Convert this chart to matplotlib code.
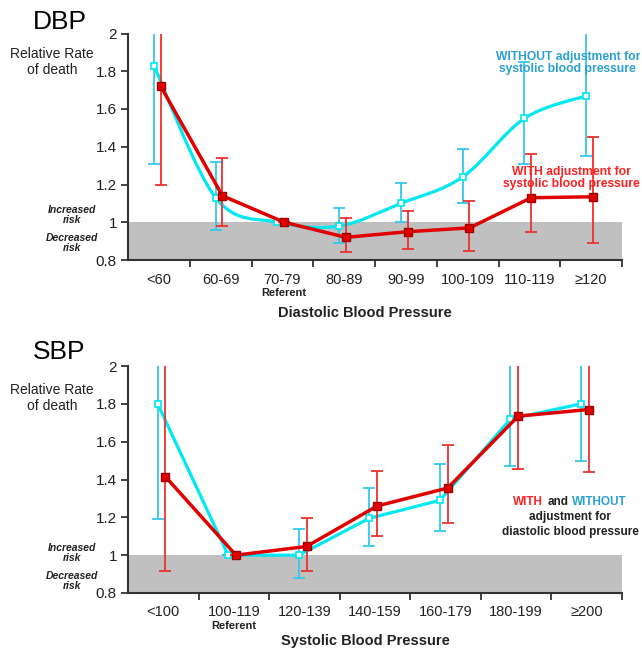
import matplotlib
matplotlib.use("Agg")
import matplotlib.pyplot as plt
import numpy as np
from matplotlib.path import Path
from matplotlib.patches import PathPatch
from matplotlib.offsetbox import TextArea, HPacker, VPacker, AnnotationBbox

plt.rcParams['font.family'] = ['Liberation Sans', 'DejaVu Sans']

# ---- data ----
dbp_cats = ["<60", "60-69", "70-79", "80-89", "90-99", "100-109", "110-119", "\u2265120"]
dbp_without = [1.83, 1.13, 1.00, 0.98, 1.10, 1.24, 1.55, 1.67]
dbp_without_lo = [1.31, 0.96, 1.00, 0.89, 1.00, 1.10, 1.31, 1.35]
dbp_without_hi = [2.40, 1.32, 1.00, 1.075, 1.21, 1.39, 1.85, 2.40]
dbp_with = [1.72, 1.14, 1.00, 0.92, 0.95, 0.97, 1.13, 1.135]
dbp_with_lo = [1.20, 0.98, 1.00, 0.84, 0.86, 0.85, 0.95, 0.89]
dbp_with_hi = [2.40, 1.34, 1.00, 1.02, 1.06, 1.11, 1.36, 1.45]

sbp_cats = ["<100", "100-119", "120-139", "140-159", "160-179", "180-199", "\u2265200"]
sbp_without = [1.80, 1.00, 1.00, 1.195, 1.29, 1.72, 1.80]
sbp_without_lo = [1.19, 1.00, 0.88, 1.05, 1.13, 1.47, 1.50]
sbp_without_hi = [2.40, 1.00, 1.14, 1.355, 1.48, 2.005, 2.40]
sbp_with = [1.415, 1.00, 1.046, 1.26, 1.355, 1.735, 1.77]
sbp_with_lo = [0.915, 1.00, 0.917, 1.10, 1.17, 1.455, 1.44]
sbp_with_hi = [2.40, 1.00, 1.195, 1.445, 1.58, 2.40, 2.40]

yticks = [0.8, 1.0, 1.2, 1.4, 1.6, 1.8, 2.0]
ytick_labels = ["0.8", "1", "1.2", "1.4", "1.6", "1.8", "2"]

CYAN = "#00e8f0"
CYAN_BAR = "#35c8ee"
CYAN_TXT = "#2a9fd0"
RED = "#e00000"
RED_BAR = "#ee3030"
RED_TXT = "#ff2020"
W, H = 642, 649


def smooth_path(x, y):
    # Catmull-Rom spline drawn as cubic Bezier segments
    pts = np.column_stack([x, y])
    n = len(pts)
    verts = [pts[0]]
    codes = [Path.MOVETO]
    for i in range(n - 1):
        p0 = pts[max(i - 1, 0)]
        p1 = pts[i]
        p2 = pts[i + 1]
        p3 = pts[min(i + 2, n - 1)]
        c1 = p1 + (p2 - p0) / 6.0
        c2 = p2 - (p3 - p1) / 6.0
        verts += [c1, c2, p2]
        codes += [Path.CURVE4] * 3
    return Path(verts, codes)


def draw_panel(ax, cats, wo, wo_lo, wo_hi, wi, wi_lo, wi_hi, smooth):
    n = len(cats)
    x = np.arange(n)
    xc = x - 0.08
    xr = x + 0.03
    ax.axhspan(0.8, 1.0, color="#c0c0c0", zorder=0, lw=0)

    wo = np.array(wo); wi = np.array(wi)
    ax.errorbar(xc, wo, yerr=[wo - np.array(wo_lo), np.array(wo_hi) - wo],
                fmt="none", ecolor=CYAN_BAR, elinewidth=1.3, capsize=4,
                capthick=1.3, zorder=2)
    if smooth:
        ax.add_patch(PathPatch(smooth_path(xc, wo), facecolor="none",
                               edgecolor=CYAN, lw=2.3, zorder=3))
    else:
        ax.plot(xc, wo, color=CYAN, lw=2.3, zorder=3)
    ax.plot(xc, wo, ls="none", marker="s", ms=4.5, mfc="white",
            mec=CYAN, mew=1.2, zorder=4)

    ax.errorbar(xr, wi, yerr=[wi - np.array(wi_lo), np.array(wi_hi) - wi],
                fmt="none", ecolor=RED_BAR, elinewidth=1.3, capsize=4,
                capthick=1.3, zorder=5)
    ax.plot(xr, wi, color=RED, lw=2.5, marker="s", ms=5.5, mfc=RED,
            mec="#a00000", mew=1, zorder=6)

    ax.set_xlim(-0.5, n - 0.5)
    ax.set_ylim(0.8, 2.0)
    ax.set_yticks(yticks)
    ax.set_yticklabels(ytick_labels)
    ax.set_xticks(np.arange(n) + 0.5)
    ax.set_xticklabels([])
    ax.set_xticks(x, minor=True)
    ax.set_xticklabels(cats, minor=True)
    ax.tick_params(axis="x", which="minor", length=0, pad=9, labelsize=10.5,
                   colors="#222222")
    ax.tick_params(axis="x", which="major", length=5, width=1.3, color="#333333")
    ax.tick_params(axis="y", length=5, width=1.3, color="#333333",
                   labelsize=11, labelcolor="#222222", pad=3)
    for s in ["top", "right"]:
        ax.spines[s].set_visible(False)
    for s in ["left", "bottom"]:
        ax.spines[s].set_color("#333333")
        ax.spines[s].set_linewidth(1.5)


fig = plt.figure(figsize=(W / 100, H / 100), dpi=100)
ax1 = fig.add_axes([128 / W, 1 - 260 / H, (622 - 128) / W, (260 - 33.5) / H])
ax2 = fig.add_axes([128 / W, 1 - 593 / H, (622 - 128) / W, (593 - 366) / H])

draw_panel(ax1, dbp_cats, dbp_without, dbp_without_lo, dbp_without_hi,
           dbp_with, dbp_with_lo, dbp_with_hi, smooth=True)
draw_panel(ax2, sbp_cats, sbp_without, sbp_without_lo, sbp_without_hi,
           sbp_with, sbp_with_lo, sbp_with_hi, smooth=False)


def ftext(px, py, s, **kw):
    return fig.text(px / W, 1 - py / H, s, **kw)


for top, title, xlab, ref_x in [(0, "DBP", "Diastolic Blood Pressure", 284),
                                (330, "SBP", "Systolic Blood Pressure", 234)]:
    ftext(33, top + 22, title, fontsize=19, va="center", ha="left")
    ftext(52, top + 62 if top == 0 else top + 68, "Relative Rate\nof death",
          fontsize=10, ha="center", va="center", linespacing=1.25,
          color="#222222")
    ftext(72, top + (215 if top == 0 else 223), "Increased\nrisk", fontsize=7.5,
          fontweight="bold", style="italic", ha="center", va="center",
          linespacing=1.1, color="#222222")
    ftext(72, top + (243 if top == 0 else 251), "Decreased\nrisk", fontsize=7.5,
          fontweight="bold", style="italic", ha="center", va="center",
          linespacing=1.1, color="#222222")
    ftext(ref_x, top + (293 if top == 0 else 296), "Referent",
          fontsize=8, fontweight="bold", ha="center", va="center",
          color="#222222")
    ftext(365, top + (313 if top == 0 else 311), xlab, fontsize=10.5,
          fontweight="bold", ha="center", va="center", color="#222222")

ftext(640, 63, "WITHOUT adjustment for\nsystolic blood pressure", fontsize=8.7,
      fontweight="bold", color=CYAN_TXT, ha="right", va="center",
      linespacing=1.1, multialignment="center")
ftext(640, 178, "WITH adjustment for\nsystolic blood pressure", fontsize=8.7,
      fontweight="bold", color=RED_TXT, ha="right", va="center",
      linespacing=1.1, multialignment="center")

tp = dict(fontsize=8.5, fontweight="bold")
line1 = HPacker(children=[TextArea("WITH", textprops=dict(color=RED_TXT, **tp)),
                          TextArea("and", textprops=dict(color="#222222", **tp)),
                          TextArea("WITHOUT", textprops=dict(color=CYAN_TXT, **tp))],
                align="baseline", pad=0, sep=3)
box = VPacker(children=[line1,
                        TextArea("adjustment for", textprops=dict(color="#222222", **tp)),
                        TextArea("diastolic blood pressure", textprops=dict(color="#222222", **tp))],
              align="center", pad=0, sep=2)
ab = AnnotationBbox(box, (570 / W, 1 - 517 / H), xycoords="figure fraction",
                    frameon=False, box_alignment=(0.5, 0.5))
fig.add_artist(ab)

fig.savefig("out.png", dpi=100)
